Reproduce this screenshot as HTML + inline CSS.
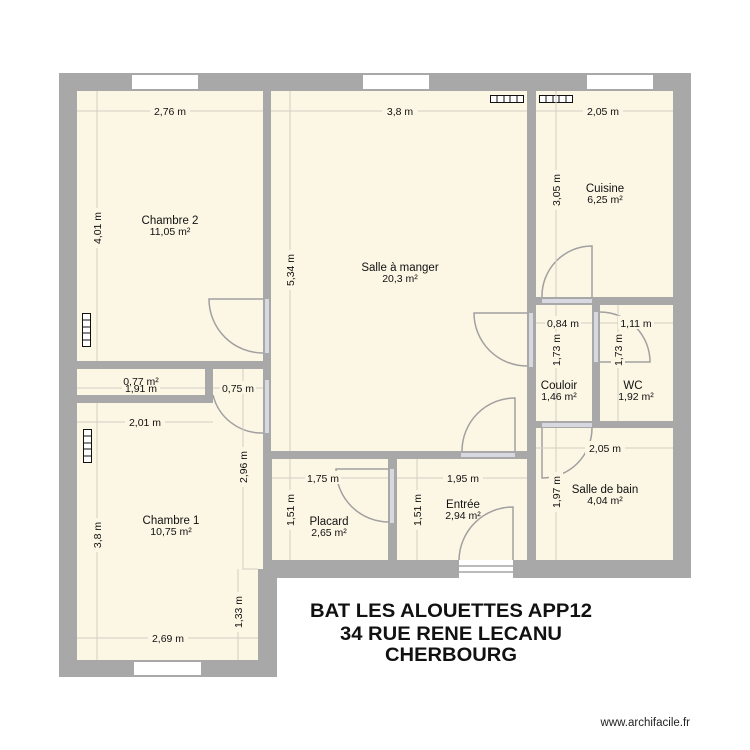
<!DOCTYPE html>
<html><head><meta charset="utf-8"><style>
html,body{margin:0;padding:0;background:#fff;}
svg{display:block;}
text{font-family:"Liberation Sans",Arial,sans-serif;fill:#111;}
.d{stroke:#d2cfc4;stroke-width:1;fill:none;}
.dl{font-size:10.5px;text-anchor:middle;}
.rl{font-size:11.5px;text-anchor:middle;}
.ra{font-size:10.5px;text-anchor:middle;}
.door{stroke:#a0a0a0;stroke-width:1.5;fill:none;}
.op{fill:#d8d8e0;}
</style></head><body>
<svg width="750" height="750" viewBox="0 0 750 750" xmlns="http://www.w3.org/2000/svg">
<rect width="750" height="750" fill="#fff"/>
<!-- walls -->
<polygon points="59,73 691,73 691,578 277,578 277,677 59,677" fill="#a8a8a8"/>
<!-- windows -->
<rect x="132" y="75" width="66" height="14" fill="#fff"/>
<rect x="363" y="75" width="66" height="14" fill="#fff"/>
<rect x="587" y="75" width="66" height="14" fill="#fff"/>
<rect x="134" y="662" width="67" height="13" fill="#fff"/>
<!-- rooms -->
<g fill="#fcf6e4">
<rect x="77" y="91" width="186" height="270"/>
<rect x="271" y="91" width="256" height="360"/>
<rect x="536" y="91" width="137" height="206"/>
<rect x="536" y="305" width="56" height="116"/>
<rect x="600" y="305" width="73" height="116"/>
<rect x="536" y="428" width="137" height="132"/>
<rect x="77" y="369" width="128" height="26"/>
<rect x="213" y="369" width="50" height="34"/>
<rect x="77" y="403" width="186" height="166"/>
<rect x="77" y="569" width="181" height="91"/>
<rect x="272" y="459" width="116" height="101"/>
<rect x="397" y="459" width="130" height="101"/>
</g>
<!-- entrance door -->
<rect x="459" y="560" width="54" height="18" fill="#fff"/>
<rect x="459" y="565" width="54" height="2" fill="#bbb"/>
<rect x="459" y="571" width="54" height="2" fill="#bbb"/>
<!-- door openings -->
<rect class="op" x="265" y="299" width="4" height="54"/>
<rect class="op" x="529" y="313" width="4" height="54"/>
<rect class="op" x="461" y="453" width="54" height="4"/>
<rect class="op" x="542" y="299" width="50" height="4"/>
<rect class="op" x="594" y="312" width="4" height="50"/>
<rect class="op" x="542" y="423" width="50" height="4"/>
<rect class="op" x="390" y="469" width="4" height="54"/>
<rect class="op" x="265" y="380" width="4" height="53"/>
<!-- doors -->
<path class="door" d="M263,299 H209 A54,54 0 0 0 263,353"/>
<path class="door" d="M527,313 H474 A53,53 0 0 0 527,366"/>
<path class="door" d="M515,451 V398 A53,53 0 0 0 462,451"/>
<path class="door" d="M592,297 V246 A50,50 0 0 0 542,297"/>
<path class="door" d="M600,362 H650 A50,50 0 0 0 600,312"/>
<path class="door" d="M542,428 V478 A50,50 0 0 0 592,428"/>
<path class="door" d="M513,560 V507 A54,54 0 0 0 459,560"/>
<path class="door" d="M389,469 H336 A53,53 0 0 0 389,522"/>
<path class="door" d="M213,395 A50,50 0 0 0 263,433"/>
<!-- radiators -->
<g fill="#fff" stroke="#111" stroke-width="1">
<rect x="82.5" y="313.5" width="8" height="33"/>
<path d="M82.5,320 H90.5 M82.5,327 H90.5 M82.5,333 H90.5 M82.5,340 H90.5"/>
<rect x="83.5" y="429.5" width="8" height="33"/>
<path d="M83.5,436 H91.5 M83.5,443 H91.5 M83.5,449 H91.5 M83.5,456 H91.5"/>
<rect x="490.5" y="95.5" width="33" height="7"/>
<path d="M497,95.5 V102.5 M504,95.5 V102.5 M510,95.5 V102.5 M517,95.5 V102.5"/>
<rect x="539.5" y="95.5" width="33" height="7"/>
<path d="M546,95.5 V102.5 M553,95.5 V102.5 M559,95.5 V102.5 M566,95.5 V102.5"/>
</g>
<!-- dimension lines -->
<g class="d">
<path d="M77,111 H263 M97,91 V361 M271,111 H527 M290,91 V451 M536,111 H673 M556,91 V297"/>
<path d="M536,323 H592 M600,323 H673 M556,305 V421 M618,305 V421"/>
<path d="M536,448 H673 M556,428 V560 M397,478 H527 M417,459 V560 M272,478 H388 M290,459 V560"/>
<path d="M243,369 V569 H258 M238,569 V660 M77,638 H258 M97,403 V660 M77,422 H213 M77,388 H205 M213,388 H263"/>
</g>
<!-- dimension labels -->
<g class="dl">
<rect x="150" y="104" width="40" height="13" fill="#fcf6e4"/><text x="170" y="115">2,76 m</text>
<rect x="382" y="104" width="36" height="13" fill="#fcf6e4"/><text x="400" y="115">3,8 m</text>
<rect x="583" y="104" width="40" height="13" fill="#fcf6e4"/><text x="603" y="115">2,05 m</text>
<rect x="545" y="316" width="36" height="13" fill="#fcf6e4"/><text x="563" y="327">0,84 m</text>
<rect x="618" y="316" width="36" height="13" fill="#fcf6e4"/><text x="636" y="327">1,11 m</text>
<rect x="585" y="441" width="40" height="13" fill="#fcf6e4"/><text x="605" y="452">2,05 m</text>
<rect x="443" y="471" width="40" height="13" fill="#fcf6e4"/><text x="463" y="482">1,95 m</text>
<rect x="305" y="471" width="36" height="13" fill="#fcf6e4"/><text x="323" y="482">1,75 m</text>
<rect x="148" y="631" width="40" height="13" fill="#fcf6e4"/><text x="168" y="642">2,69 m</text>
<rect x="125" y="415" width="40" height="13" fill="#fcf6e4"/><text x="145" y="426">2,01 m</text>
<rect x="122" y="381" width="38" height="13" fill="#fcf6e4"/><text x="141" y="392">1,91 m</text>
<text x="141" y="385">0,77 m²</text>
<rect x="220" y="381" width="36" height="13" fill="#fcf6e4"/><text x="238" y="392">0,75 m</text>
<g fill="#fcf6e4">
<rect x="90" y="208" width="14" height="40"/><rect x="283" y="250" width="14" height="40"/><rect x="549" y="170" width="14" height="40"/>
<rect x="549" y="332" width="14" height="36"/><rect x="611" y="332" width="14" height="36"/><rect x="549" y="472" width="14" height="40"/>
<rect x="410" y="490" width="14" height="40"/><rect x="283" y="490" width="14" height="40"/><rect x="236" y="447" width="14" height="40"/>
<rect x="231" y="592" width="14" height="40"/><rect x="90" y="518" width="14" height="34"/>
</g>
<text transform="translate(101,228) rotate(-90)">4,01 m</text>
<text transform="translate(294,270) rotate(-90)">5,34 m</text>
<text transform="translate(560,190) rotate(-90)">3,05 m</text>
<text transform="translate(560,350) rotate(-90)">1,73 m</text>
<text transform="translate(622,350) rotate(-90)">1,73 m</text>
<text transform="translate(560,492) rotate(-90)">1,97 m</text>
<text transform="translate(421,510) rotate(-90)">1,51 m</text>
<text transform="translate(294,510) rotate(-90)">1,51 m</text>
<text transform="translate(247,467) rotate(-90)">2,96 m</text>
<text transform="translate(242,612) rotate(-90)">1,33 m</text>
<text transform="translate(101,535) rotate(-90)">3,8 m</text>
</g>
<!-- room labels -->
<text class="rl" x="170" y="224">Chambre 2</text><text class="ra" x="170" y="235">11,05 m²</text>
<text class="rl" x="400" y="271">Salle à manger</text><text class="ra" x="400" y="282">20,3 m²</text>
<text class="rl" x="605" y="192">Cuisine</text><text class="ra" x="605" y="203">6,25 m²</text>
<text class="rl" x="559" y="389">Couloir</text><text class="ra" x="559" y="400">1,46 m²</text>
<text class="rl" x="633" y="389">WC</text><text class="ra" x="636" y="400">1,92 m²</text>
<text class="rl" x="605" y="493">Salle de bain</text><text class="ra" x="605" y="504">4,04 m²</text>
<text class="rl" x="463" y="508">Entrée</text><text class="ra" x="463" y="519">2,94 m²</text>
<text class="rl" x="329" y="525">Placard</text><text class="ra" x="329" y="536">2,65 m²</text>
<text class="rl" x="171" y="524">Chambre 1</text><text class="ra" x="171" y="535">10,75 m²</text>
<!-- title -->
<g style="font-size:19px;font-weight:bold;" text-anchor="middle">
<text x="451" y="617" textLength="282" lengthAdjust="spacingAndGlyphs">BAT LES ALOUETTES APP12</text>
<text x="451" y="640" textLength="222" lengthAdjust="spacingAndGlyphs">34 RUE RENE LECANU</text>
<text x="451" y="661" textLength="132" lengthAdjust="spacingAndGlyphs">CHERBOURG</text>
</g>
<text x="690" y="726" text-anchor="end" style="font-size:11.5px;fill:#222;">www.archifacile.fr</text>
</svg>
</body></html>
